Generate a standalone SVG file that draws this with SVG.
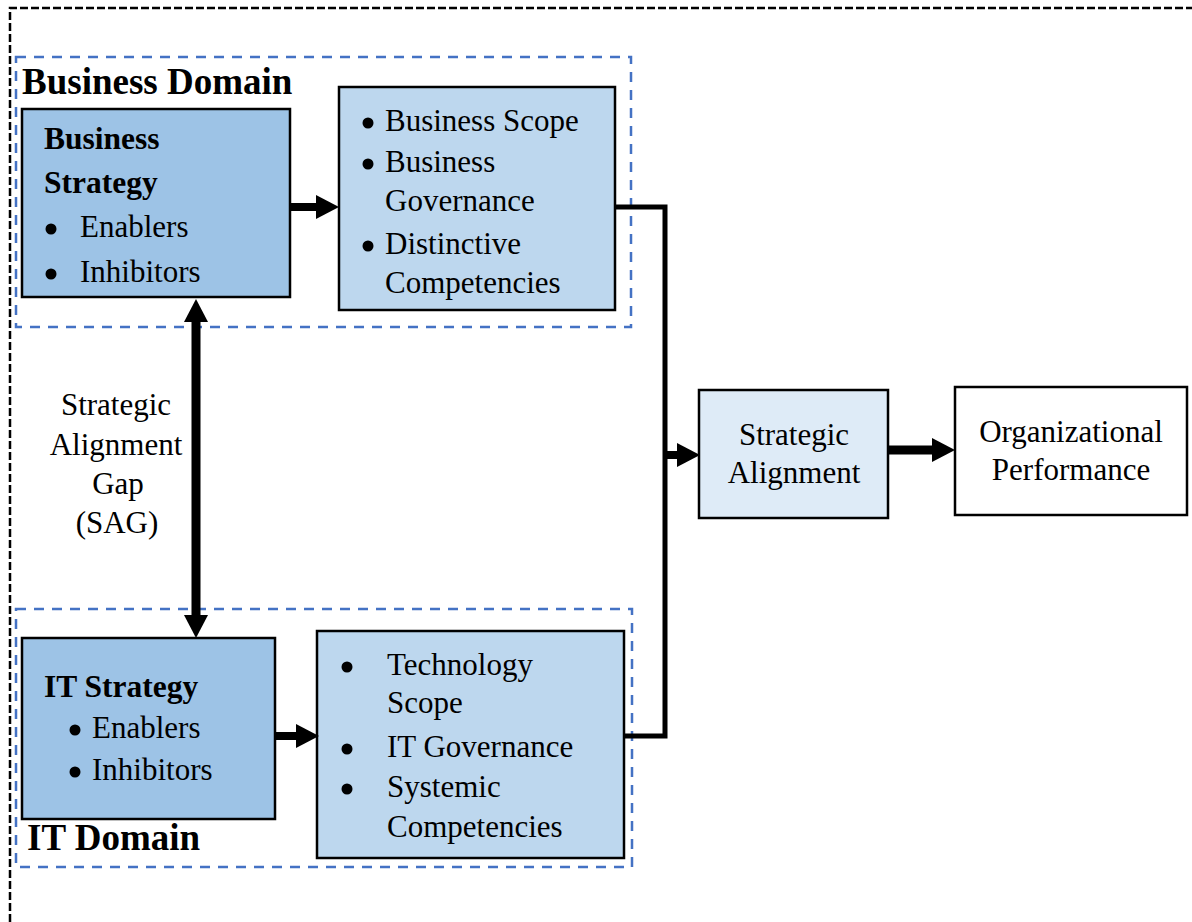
<svg xmlns="http://www.w3.org/2000/svg" width="1192" height="922" viewBox="0 0 1192 922">
<style>
text{font-family:"Liberation Serif","Times New Roman",serif;fill:#000}
.t{font-size:31px}
.b{font-size:31.5px;font-weight:bold}
.dom{font-size:37px;font-weight:bold}
.box{stroke:#000;stroke-width:2.5}
.dark{fill:#9DC3E6}
.mid{fill:#BDD7EE}
.light{fill:#DEEBF7}
.domain{fill:none;stroke:#4472C4;stroke-width:2.5;stroke-dasharray:10 8}
.c{text-anchor:middle}
.ln{stroke:#000;fill:none}
.dot{fill:#000}
</style>
<defs>
<marker id="ah" markerUnits="userSpaceOnUse" markerWidth="23" markerHeight="24" refX="0" refY="12" orient="auto-start-reverse">
<path d="M0,0 L23,12 L0,24 z" fill="#000"/>
</marker>
</defs>
<rect width="1192" height="922" fill="#fff"/>
<path id="outer" d="M10,922 V8 H1192" fill="none" stroke="#000" stroke-width="2.5" stroke-dasharray="8 3"/>

<g id="business-domain">
<rect class="domain" x="16" y="57" width="615" height="270"/>
<text class="dom" x="22" y="94">Business Domain</text>
</g>
<g id="it-domain">
<rect class="domain" x="16" y="609" width="616" height="258"/>
<text class="dom" x="27" y="850">IT Domain</text>
</g>

<g id="business-strategy">
<rect class="box dark" x="22" y="109" width="268" height="188"/>
<text class="b" x="44" y="149">Business</text>
<text class="b" x="44" y="193">Strategy</text>
<circle class="dot" cx="51" cy="229" r="5.5"/><text class="t" x="80" y="237">Enablers</text>
<circle class="dot" cx="51" cy="274" r="5.5"/><text class="t" x="80" y="282">Inhibitors</text>
</g>

<g id="business-list">
<rect class="box mid" x="339" y="87" width="276" height="223"/>
<circle class="dot" cx="368" cy="123" r="5.5"/><text class="t" x="385" y="131">Business Scope</text>
<circle class="dot" cx="368" cy="164" r="5.5"/><text class="t" x="385" y="172">Business</text>
<text class="t" x="385" y="211">Governance</text>
<circle class="dot" cx="368" cy="246" r="5.5"/><text class="t" x="385" y="254">Distinctive</text>
<text class="t" x="385" y="293">Competencies</text>
</g>

<g id="sag-label">
<text class="t c" x="116" y="415">Strategic</text>
<text class="t c" x="116" y="455">Alignment</text>
<text class="t c" x="118" y="494">Gap</text>
<text class="t c" x="117" y="533">(SAG)</text>
</g>

<g id="it-strategy">
<rect class="box dark" x="22" y="638" width="253" height="181"/>
<text class="b" x="44" y="697">IT Strategy</text>
<circle class="dot" cx="75" cy="730" r="5.5"/><text class="t" x="92" y="738">Enablers</text>
<circle class="dot" cx="75" cy="772" r="5.5"/><text class="t" x="92" y="780">Inhibitors</text>
</g>

<g id="it-list">
<rect class="box mid" x="317" y="631" width="307" height="227"/>
<circle class="dot" cx="347" cy="667" r="5.5"/><text class="t" x="387" y="675">Technology</text>
<text class="t" x="387" y="713">Scope</text>
<circle class="dot" cx="347" cy="749" r="5.5"/><text class="t" x="387" y="757">IT Governance</text>
<circle class="dot" cx="347" cy="789" r="5.5"/><text class="t" x="387" y="797">Systemic</text>
<text class="t" x="387" y="837">Competencies</text>
</g>

<g id="strategic-alignment">
<rect class="box light" x="699" y="390" width="189" height="128"/>
<text class="t c" x="794" y="445">Strategic</text>
<text class="t c" x="794" y="483">Alignment</text>
</g>

<g id="organizational-performance">
<rect class="box" fill="#fff" x="955" y="387" width="232" height="128"/>
<text class="t c" x="1071" y="442">Organizational</text>
<text class="t c" x="1071" y="480">Performance</text>
</g>

<g id="connectors">
<line class="ln" x1="290" y1="207" x2="316" y2="207" stroke-width="8" marker-end="url(#ah)"/>
<line class="ln" x1="275" y1="736" x2="296" y2="736" stroke-width="8" marker-end="url(#ah)"/>
<line class="ln" x1="196" y1="322" x2="196" y2="615" stroke-width="9" marker-start="url(#ah)" marker-end="url(#ah)"/>
<path class="ln" d="M615,207 H665 V736 H624" stroke-width="5"/>
<line class="ln" x1="665" y1="455" x2="677" y2="455" stroke-width="8" marker-end="url(#ah)"/>
<line class="ln" x1="888" y1="450" x2="932" y2="450" stroke-width="9" marker-end="url(#ah)"/>
</g>
</svg>
